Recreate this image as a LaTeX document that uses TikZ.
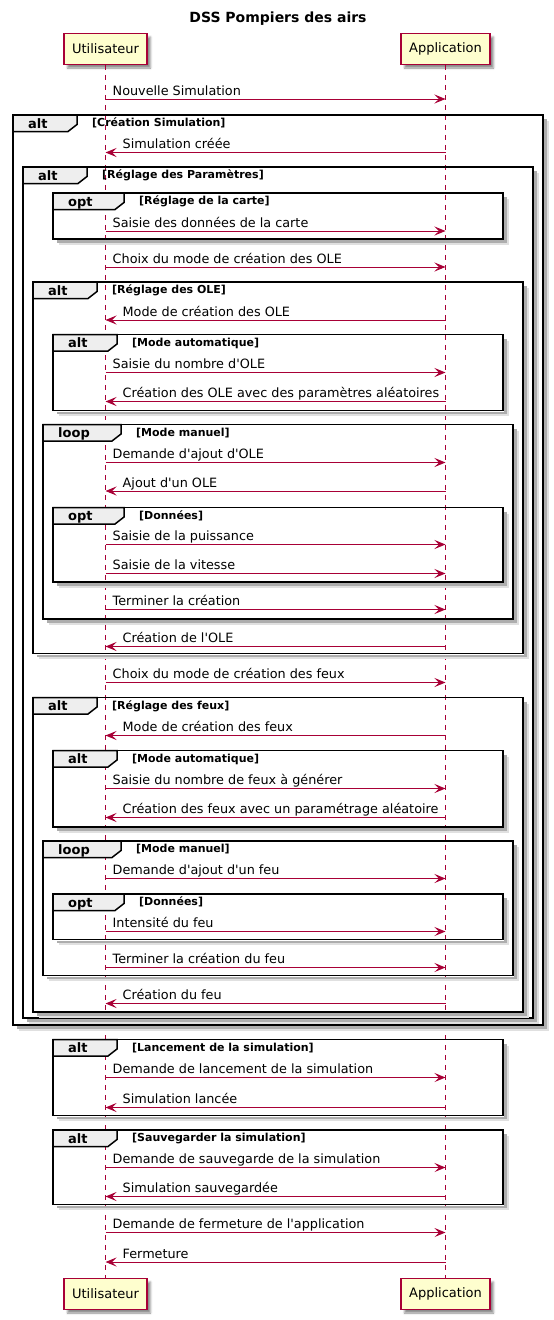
\documentclass[tikz,border=0pt]{standalone}
\usepackage{fontspec}
\usepackage{tikz}
\usetikzlibrary{arrows.meta, positioning, calc, shadows.blur}
\newfontfamily\umlfont{DejaVu Sans}
\definecolor{umlred}{HTML}{A80036}
\definecolor{umlyellow}{HTML}{FEFECE}
\definecolor{tabgray}{HTML}{EEEEEE}

\tikzset{
  part/.style={draw=umlred, line width=1.5pt, fill=umlyellow, minimum height=31pt, inner sep=0pt,
    font=\fontsize{13}{13}\selectfont\umlfont,
    blur shadow={shadow xshift=3.5pt, shadow yshift=-3.5pt, shadow blur radius=2pt, shadow opacity=45}},
  lifeline/.style={draw=umlred, line width=1pt, dash pattern=on 5pt off 5pt},
  msg/.style={draw=umlred, line width=1pt, -{Stealth[length=11pt, width=9pt, inset=4.5pt]}},
  msgtext/.style={anchor=base west, inner sep=0pt, font=\fontsize{12.8}{13}\selectfont\umlfont},
  frameline/.style={draw=black, line width=1.5pt},
  shadowin/.style={draw=black!32, line width=2.2pt},
  shadowout/.style={draw=black!12, line width=2.5pt},
  kwtext/.style={anchor=base west, inner sep=0pt, font=\fontsize{13}{13}\selectfont\umlfont\bfseries},
  guardtext/.style={anchor=base west, inner sep=0pt, font=\fontsize{11}{11}\selectfont\umlfont\bfseries},
  titletext/.style={anchor=base, inner sep=0pt, font=\fontsize{14}{14}\selectfont\umlfont\bfseries}
}

\begin{document}
\begin{tikzpicture}[x=1pt, y=-1pt]
  \useasboundingbox (0,0) rectangle (554,1320);

  \node[titletext] (title) at (278,22.5) {DSS Pompiers des airs};

  % participants, top and bottom
  \node[part, minimum width=83pt] (user) at (105.5,49) {Utilisateur};
  \node[part, minimum width=89pt] (app) at (445.5,49) {Application};
  \node[part, minimum width=83pt] (userB) at (105.5,1294) {Utilisateur};
  \node[part, minimum width=89pt] (appB) at (445.5,1294) {Application};

  \draw[lifeline] (user) -- (userB);
  \draw[lifeline] (app) -- (appB);

  % frames: left/top/right/bottom/keyword/tab width/guard
  \foreach \fl/\ft/\fr/\fb/\kw/\tw/\gd [count=\i] in {
      13/115/543/1025/alt/64/Création Simulation,
      23/167/533/1018/alt/64/Réglage des Paramètres,
      53/193/503/239/opt/71/Réglage de la carte,
      33/282/523/653.5/alt/64/Réglage des OLE,
      53/334.5/503/410.5/alt/64/Mode automatique,
      43/424.5/513/619/loop/78/Mode manuel,
      53/507.5/503/582/opt/71/Données,
      33/697.5/523/1012/alt/64/Réglage des feux,
      53/750.5/503/827/alt/64/Mode automatique,
      43/841/513/975.5/loop/78/Mode manuel,
      53/894/503/939.5/opt/71/Données,
      53/1039.5/503/1115.5/alt/64/Lancement de la simulation,
      53/1130/503/1204.5/alt/64/Sauvegarder la simulation}{
    \draw[shadowout] (\fr+4.5,\ft+6) -- (\fr+4.5,\fb+4.5) -- (\fl+6,\fb+4.5);
    \draw[shadowin] (\fr+2.5,\ft+4) -- (\fr+2.5,\fb+2.5) -- (\fl+4,\fb+2.5);
    \draw[frameline] (\fl,\ft) rectangle (\fr,\fb);
    \draw[frameline, fill=tabgray] (\fl,\ft) -- (\fl+\tw,\ft) -- (\fl+\tw,\ft+9.5)
      -- (\fl+\tw-9,\ft+16.5) -- (\fl,\ft+16.5) -- cycle;
    \node[kwtext] (kw\i) at (\fl+15,\ft+13) {\kw};
    \node[guardtext] (guard\i) at (\fl+\tw+15,\ft+11.5) {[\gd]};
  }

  % messages from Utilisateur to Application
  \foreach \y/\txt [count=\i] in {
      99/Nouvelle Simulation,
      231/Saisie des données de la carte,
      267/Choix du mode de création des OLE,
      372.5/Saisie du nombre d'OLE,
      462.5/Demande d'ajout d'OLE,
      544.5/Saisie de la puissance,
      573.5/Saisie de la vitesse,
      609.5/Terminer la création,
      682.5/Choix du mode de création des feux,
      788.5/Saisie du nombre de feux à générer,
      878.5/Demande d'ajout d'un feu,
      931.5/Intensité du feu,
      967.5/Terminer la création du feu,
      1077.5/Demande de lancement de la simulation,
      1167.5/Demande de sauvegarde de la simulation,
      1232.5/Demande de fermeture de l'application}{
    \coordinate (go\i) at (user |- 0,\y);
    \coordinate (to\i) at (app |- 0,\y);
    \draw[msg] (go\i) -- (to\i);
    \node[msgtext] (gotext\i) at ($(go\i)+(7,-4)$) {\txt};
  }

  % answers from Application to Utilisateur
  \foreach \y/\txt [count=\i] in {
      152.5/Simulation créée,
      320/Mode de création des OLE,
      401.5/Création des OLE avec des paramètres aléatoires,
      491/Ajout d'un OLE,
      646.5/Création de l'OLE,
      735.5/Mode de création des feux,
      817.5/Création des feux avec un paramétrage aléatoire,
      1003.5/Création du feu,
      1107.5/Simulation lancée,
      1196.5/Simulation sauvegardée,
      1262/Fermeture}{
    \coordinate (back\i) at (app |- 0,\y);
    \coordinate (end\i) at (user |- 0,\y);
    \draw[msg] (back\i) -- (end\i);
    \node[msgtext] (backtext\i) at ($(end\i)+(17,-4)$) {\txt};
  }
\end{tikzpicture}
\end{document}
